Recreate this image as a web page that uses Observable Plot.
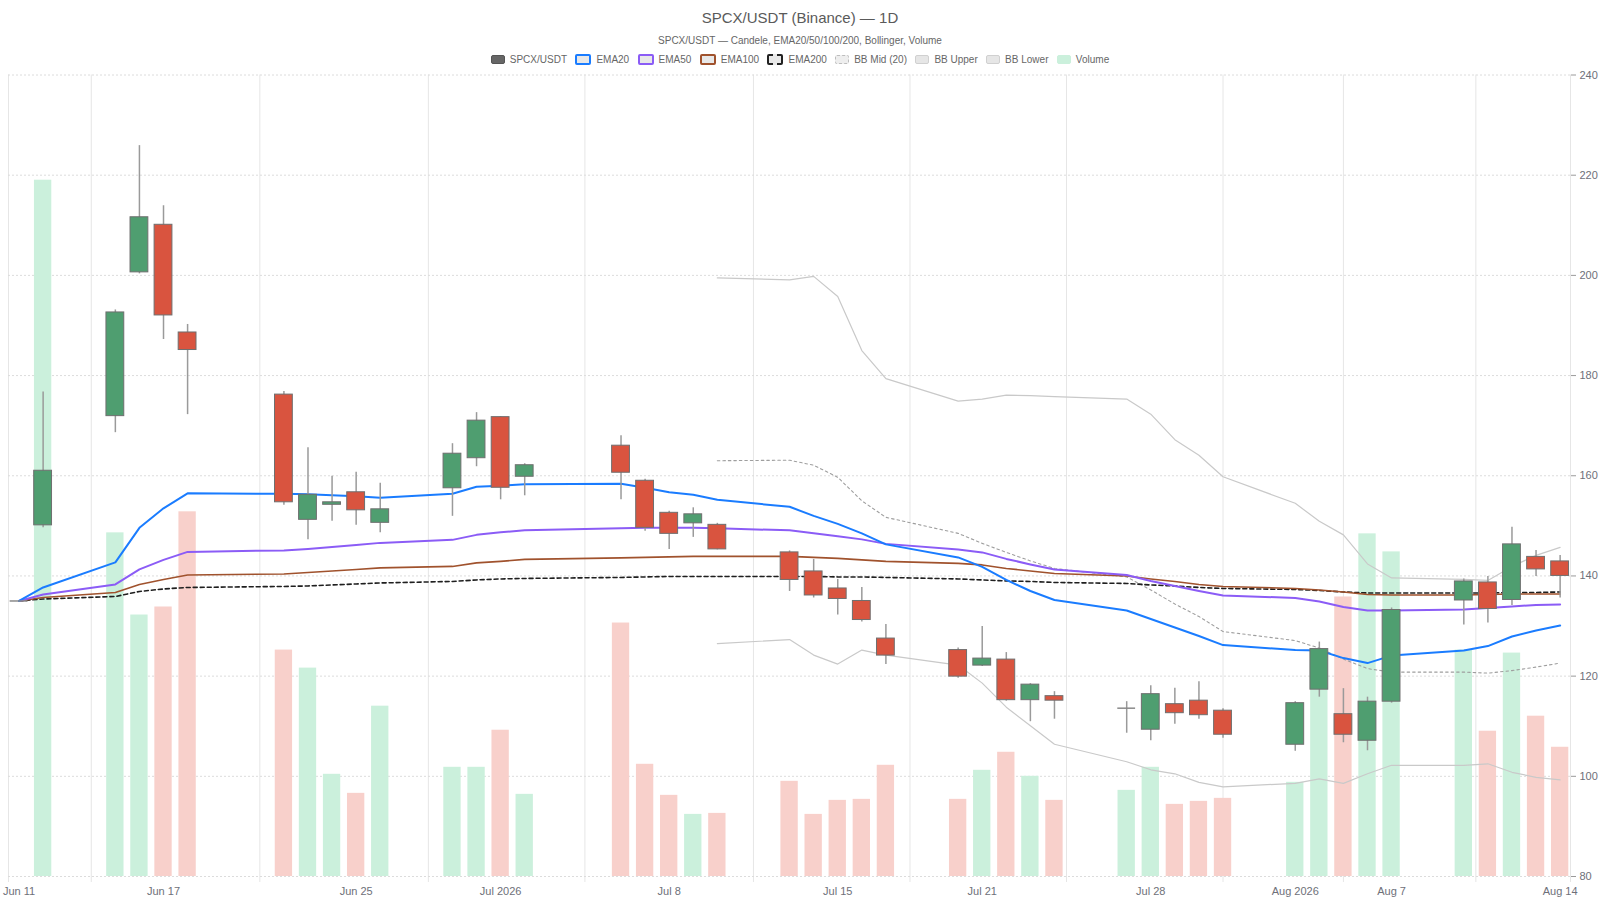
<!DOCTYPE html>
<html>
<head>
<meta charset="utf-8">
<script src="https://cdn.jsdelivr.net/npm/d3@7"></script>
<script src="https://cdn.jsdelivr.net/npm/@observablehq/plot@0.6"></script>
<style>
  html, body { margin: 0; padding: 0; background: #fff; }
  body { width: 1600px; height: 900px; overflow: hidden; font-family: "Liberation Sans", Arial, sans-serif; }
  #header { position: relative; width: 1600px; height: 66px; }
  #title { position: absolute; top: 9px; width: 100%; text-align: center; font-size: 15px; color: #5a5a5a; }
  #subtitle { position: absolute; top: 35px; width: 100%; text-align: center; font-size: 10px; color: #666; }
  #legend { position: absolute; top: 54px; width: 100%; display: flex; justify-content: center; align-items: center; font-size: 10px; color: #666; }
  .item { display: flex; align-items: center; margin: 0 4.2px; }
  .sw { width: 12px; height: 7px; border-radius: 2px; margin-right: 5px; box-sizing: content-box; }
  #chart { position: relative; width: 1600px; height: 834px; }
  #chart > svg, #chart > figure { position: absolute; left: 0; top: 0; margin: 0; }
</style>
</head>
<body>
<div id="header">
  <div id="title">SPCX/USDT (Binance) — 1D</div>
  <div id="subtitle">SPCX/USDT — Candele, EMA20/50/100/200, Bollinger, Volume</div>
  <div id="legend"></div>
</div>
<div id="chart"></div>
<script>
// ---------- data ----------
const dates = ["2026-06-11","2026-06-12","2026-06-15","2026-06-16","2026-06-17","2026-06-18",
  "2026-06-22","2026-06-23","2026-06-24","2026-06-25","2026-06-26",
  "2026-06-29","2026-06-30","2026-07-01","2026-07-02",
  "2026-07-06","2026-07-07","2026-07-08","2026-07-09","2026-07-10",
  "2026-07-13","2026-07-14","2026-07-15","2026-07-16","2026-07-17",
  "2026-07-20","2026-07-21","2026-07-22","2026-07-23","2026-07-24",
  "2026-07-27","2026-07-28","2026-07-29","2026-07-30","2026-07-31",
  "2026-08-03","2026-08-04","2026-08-05","2026-08-06","2026-08-07",
  "2026-08-10","2026-08-11","2026-08-12","2026-08-13","2026-08-14"];
const open  = [135.0,150.1,171.9,200.6,210.1,188.6, 176.2,151.2,154.2,156.7,150.6, 157.5,163.5,171.7,159.8,
  166.0,159.0,152.6,150.5,150.2, 144.7,140.9,137.5,135.0,127.5, 125.2,122.1,123.3,115.2,116.0,
  113.6,109.3,114.4,115.1,113.1, 106.3,117.3,112.4,107.1,114.9, 135.1,138.7,135.2,143.8,142.9];
const high  = [135.0,176.7,193.1,225.9,213.9,190.2, 176.8,165.6,159.9,160.7,158.5, 166.4,172.6,171.8,162.4,
  168.0,159.3,152.9,153.6,150.5, 145.0,143.3,139.3,137.7,130.3, 125.6,129.9,124.7,118.5,116.9,
  114.9,118.1,117.6,118.9,113.5, 114.9,126.8,117.5,115.8,133.6, 139.4,139.9,149.7,145.1,144.1];
const low   = [135.0,149.6,168.6,200.3,187.2,172.2, 154.1,147.2,150.9,150.1,148.6, 151.9,161.8,155.2,156.0,
  155.2,148.9,145.3,147.7,145.2, 136.9,135.6,132.2,130.8,122.3, 119.6,121.9,115.0,110.9,111.4,
  108.6,107.1,110.4,111.4,107.6, 105.0,115.8,106.7,105.1,114.6, 130.2,130.6,134.1,139.9,135.6];
const close = [135.0,161.0,192.6,211.6,192.0,185.1, 154.7,156.2,154.7,153.1,153.3, 164.4,171.0,157.6,162.1,
  160.6,149.6,148.4,152.3,145.3, 139.2,136.1,135.4,131.2,124.1, 119.9,123.5,115.2,118.3,115.1,
  113.6,116.4,112.6,112.2,108.3, 114.6,125.4,108.3,114.9,133.2, 138.9,133.4,146.3,141.3,140.0];
// volume (millions)
const volume = [0,13.9,6.86,5.22,5.38,7.28, 4.52,4.16,2.04,1.66,3.40, 2.18,2.18,2.92,1.64,
  5.06,2.24,1.62,1.24,1.26, 1.90,1.24,1.52,1.54,2.22, 1.54,2.12,2.48,2.00,1.52,
  1.72,2.18,1.44,1.50,1.56, 1.88,3.78,5.58,6.84,6.48, 4.52,2.90,4.46,3.20,2.58];
const ema20  = [135.0,137.7,142.7,149.6,153.5,156.5, 156.4,156.3,156.1,155.9,155.6, 156.4,157.8,158.0,158.3,
  158.4,157.6,156.7,156.2,155.2, 153.8,152.0,150.4,148.5,146.3, 143.7,141.8,139.2,137.0,135.2,
  133.1,131.4,129.7,128.0,126.2, 125.2,125.1,123.6,122.6,124.1, 125.1,126.0,127.9,129.1,130.1];
const ema50  = [135.0,136.3,138.3,141.3,143.2,144.8, 145.1,145.4,145.8,146.2,146.6, 147.2,148.2,148.7,149.1,
  149.5,149.6,149.6,149.6,149.5, 149.1,148.5,147.9,147.3,146.4, 145.3,144.7,143.4,142.3,141.3,
  140.2,139.0,138.0,137.0,136.1, 135.6,134.9,133.8,133.1,133.1, 133.3,133.6,133.9,134.2,134.3];
const ema100 = [135.0,135.7,136.7,138.3,139.3,140.2, 140.4,140.7,141.0,141.3,141.6, 141.9,142.6,142.9,143.3,
  143.6,143.7,143.8,143.9,143.9, 143.9,143.7,143.5,143.2,142.9, 142.5,142.2,141.5,141.0,140.5,
  140.0,139.4,138.9,138.3,137.9, 137.5,137.2,136.8,136.3,136.2, 136.2,136.3,136.4,136.4,136.4];
const ema200 = [135.0,135.4,135.9,136.9,137.4,137.7, 137.9,138.0,138.2,138.4,138.6, 138.9,139.2,139.4,139.5,
  139.7,139.8,139.9,139.9,139.9, 139.9,139.9,139.8,139.8,139.7, 139.4,139.2,139.0,138.9,138.7,
  138.5,138.2,138.0,137.7,137.5, 137.3,137.1,136.8,136.6,136.6, 136.6,136.6,136.7,136.7,136.8];
const bbMid   = [null,null,null,null,null,null, null,null,null,null,null, null,null,null,null,
  null,null,null,null,163.0, 163.1,162.1,159.7,155.0,151.7, 148.5,146.5,144.7,143.0,141.5,
  139.8,137.2,134.4,131.9,128.9, 127.1,125.6,123.4,121.5,120.8, 120.8,120.6,121.1,121.8,122.6];
const bbUpper = [null,null,null,null,null,null, null,null,null,null,null, null,null,null,null,
  null,null,null,null,199.5, 199.1,199.8,195.8,185.0,179.4, 174.9,175.3,176.1,176.0,175.8,
  175.3,172.3,167.2,164.1,159.8, 154.5,150.9,148.2,142.4,139.6, 139.3,139.1,141.9,144.1,145.7];
const bbLower = [null,null,null,null,null,null, null,null,null,null,null, null,null,null,null,
  null,null,null,null,126.5, 127.3,124.2,122.4,125.2,124.2, 122.2,118.6,113.8,110.1,106.4,
  102.9,101.3,100.5,98.8,97.9, 98.6,99.5,98.6,100.5,102.2, 102.2,102.5,100.8,99.8,99.3];

const tickDates  = ["2026-06-11","2026-06-17","2026-06-25","2026-07-01","2026-07-08","2026-07-15",
  "2026-07-21","2026-07-28","2026-08-03","2026-08-07","2026-08-14"];
const tickLabels = ["Jun 11","Jun 17","Jun 25","Jul 2026","Jul 8","Jul 15","Jul 21","Jul 28","Aug 2026","Aug 7","Aug 14"];
const gridDates  = ["2026-06-10T13:30Z","2026-06-14T00:00Z","2026-06-21T00:00Z","2026-06-28T00:00Z","2026-07-04T12:00Z",
  "2026-07-11T12:00Z","2026-07-18T00:00Z","2026-07-24T12:00Z","2026-07-31T00:00Z","2026-08-05T00:00Z",
  "2026-08-10T12:00Z","2026-08-14T10:20Z"];
const priceTicks = [80,100,120,140,160,180,200,220,240];
const xDomain = ["2026-06-10T13:30Z","2026-08-14T10:20Z"];

// ---------- build ----------
const toDate = s => new Date(s.length === 10 ? s + "T00:00:00Z" : s);
const rows = dates.map((d, i) => ({
  date: toDate(d), open: open[i], high: high[i], low: low[i], close: close[i], volume: volume[i],
  ema20: ema20[i], ema50: ema50[i], ema100: ema100[i], ema200: ema200[i],
  bbMid: bbMid[i], bbUpper: bbUpper[i], bbLower: bbLower[i],
  up: close[i] >= open[i]
}));
const HALF = 0.37 * 864e5;
const VHALF = 0.36 * 864e5;
const labelMap = new Map(tickDates.map((d, i) => [+toDate(d), tickLabels[i]]));

const UP = "#4f9e70", DOWN = "#d9543f";
const VUP = "#cbf0dc", VDOWN = "#f8d0cb";
const FONT = '"Liberation Sans", Arial, sans-serif';

const base = {
  width: 1600, height: 834, marginTop: 8.5, marginBottom: 24, marginLeft: 8, marginRight: 30,
  style: { background: "transparent", fontFamily: FONT, fontSize: "11px", color: "#6e7079", overflow: "visible" },
  x: { type: "utc", domain: xDomain.map(toDate) }
};

// layer 1: grid + axes
const layerGrid = Plot.plot({
  ...base,
  y: { domain: [80, 240] },
  marks: [
    Plot.ruleX(gridDates.map(toDate), { stroke: "#e6e6e6", strokeWidth: 1, insetBottom: -6 }),
    Plot.ruleY(priceTicks, { stroke: "#dcdcdc", strokeDasharray: "2,2", strokeWidth: 1 }),
    Plot.axisY({ anchor: "right", ticks: priceTicks, tickSize: 5, tickPadding: 4, stroke: "#9a9a9a", fill: "#6e7079", fontSize: 11 }),
    Plot.axisX({ ticks: tickDates.map(toDate), tickFormat: d => labelMap.get(+d), tickSize: 0, tickPadding: 11, fill: "#6e7079", fontSize: 11 })
  ]
});

// layer 2: volume
const layerVol = Plot.plot({
  ...base,
  x: { ...base.x, axis: null },
  y: { domain: [0, 16], axis: null },
  marks: [
    Plot.rectY(rows.filter(r => r.volume > 0), {
      x1: d => new Date(+d.date - VHALF), x2: d => new Date(+d.date + VHALF),
      y: "volume", fill: d => d.up ? VUP : VDOWN
    })
  ]
});

// layer 3: indicators + candles
const lineOpts = (key, stroke, w, dash) => Plot.line(rows, {
  x: "date", y: key, stroke, strokeWidth: w, strokeDasharray: dash, curve: "linear",
  defined: d => d[key] != null
});
const layerPrice = Plot.plot({
  ...base,
  x: { ...base.x, axis: null },
  y: { domain: [80, 240], axis: null },
  marks: [
    lineOpts("bbUpper", "#c9c9c9", 1.2),
    lineOpts("bbLower", "#c9c9c9", 1.2),
    lineOpts("bbMid", "#9e9e9e", 1.1, "2.5,3"),
    lineOpts("ema200", "#1f1f1f", 1.6, "4,3"),
    lineOpts("ema100", "#a0522d", 1.6),
    lineOpts("ema50", "#8b5cf6", 2),
    lineOpts("ema20", "#1a7cff", 2),
    Plot.ruleX(rows, { x: "date", y1: "low", y2: "high", stroke: "#9a9a9a", strokeWidth: 1.5 }),
    Plot.rect(rows.filter(r => r.open !== r.close), {
      x1: d => new Date(+d.date - HALF), x2: d => new Date(+d.date + HALF),
      y1: "open", y2: "close", fill: d => d.up ? UP : DOWN, stroke: "#6f6f6f", strokeWidth: 1
    }),
    Plot.ruleY(rows.filter(r => r.open === r.close), {
      x1: d => new Date(+d.date - HALF), x2: d => new Date(+d.date + HALF),
      y: "close", stroke: "#8a8a8a", strokeWidth: 1.5
    })
  ]
});

const chart = document.getElementById("chart");
chart.appendChild(layerGrid);
chart.appendChild(layerVol);
chart.appendChild(layerPrice);

// legend
const legendItems = [
  { label: "SPCX/USDT", style: "background:#666;border:1px solid #555;" },
  { label: "EMA20", style: "background:#e8e8e8;border:2px solid #1a7cff;" },
  { label: "EMA50", style: "background:#e8e8e8;border:2px solid #8b5cf6;" },
  { label: "EMA100", style: "background:#e8e8e8;border:2px solid #a0522d;" },
  { label: "EMA200", style: "background:#e8e8e8;border:2px dashed #222;" },
  { label: "BB Mid (20)", style: "background:#eee;border:1.5px dashed #bdbdbd;" },
  { label: "BB Upper", style: "background:#e6e6e6;border:1px solid #d0d0d0;" },
  { label: "BB Lower", style: "background:#e6e6e6;border:1px solid #d0d0d0;" },
  { label: "Volume", style: "background:#cbf0dc;border:1px solid #cbf0dc;" }
];
const legend = document.getElementById("legend");
for (const it of legendItems) {
  const el = document.createElement("div");
  el.className = "item";
  const sw = document.createElement("span");
  sw.className = "sw";
  sw.setAttribute("style", it.style);
  const tx = document.createElement("span");
  tx.textContent = it.label;
  el.appendChild(sw); el.appendChild(tx);
  legend.appendChild(el);
}
</script>
</body>
</html>
